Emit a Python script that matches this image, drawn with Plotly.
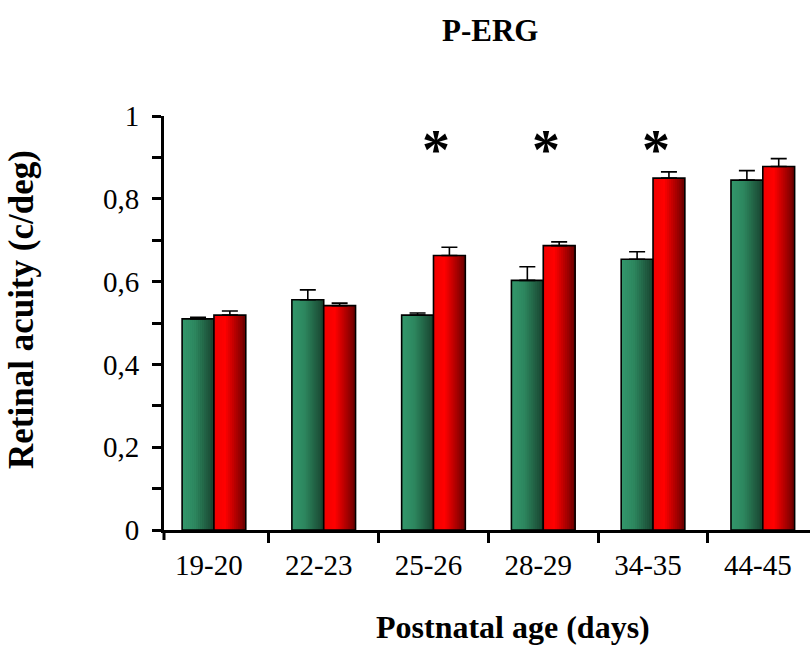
import plotly.graph_objects as go

categories = ["19-20", "22-23", "25-26", "28-29", "34-35", "44-45"]
green_vals = [0.510, 0.556, 0.519, 0.603, 0.654, 0.845]
green_err = [0.004, 0.024, 0.005, 0.033, 0.018, 0.023]
red_vals = [0.519, 0.542, 0.663, 0.687, 0.850, 0.878]
red_err = [0.010, 0.006, 0.020, 0.009, 0.015, 0.019]
sig_groups = ["25-26", "28-29", "34-35"]
y_ticks = [0, 0.1, 0.2, 0.3, 0.4, 0.5, 0.6, 0.7, 0.8, 0.9, 1.0]
y_ticklabels = ["0", "", "0,2", "", "0,4", "", "0,6", "", "0,8", "", "1"]

FONT = "Liberation Serif"
BW = 0.29
NS = 16


def lerp(c1, c2, t):
    return tuple(int(round(a + (b - a) * t)) for a, b in zip(c1, c2))


def grad(stops, t):
    for (t0, c0), (t1, c1) in zip(stops, stops[1:]):
        if t <= t1:
            return lerp(c0, c1, (t - t0) / (t1 - t0) if t1 > t0 else 0)
    return stops[-1][1]


green_stops = [(0.0, (52, 152, 108)), (0.4, (45, 135, 95)), (1.0, (24, 66, 46))]
red_stops = [(0.0, (240, 0, 0)), (0.35, (255, 0, 0)), (1.0, (105, 0, 0))]

fig = go.Figure()

for vals, errs, stops, off in [(green_vals, green_err, green_stops, -BW),
                               (red_vals, red_err, red_stops, 0.0)]:
    sw = BW / NS
    for i in range(NS):
        c = grad(stops, (i + 0.5) / NS)
        fig.add_trace(go.Bar(
            x=categories, y=vals, width=BW - i * sw, offset=off + i * sw,
            marker=dict(color="rgb(%d,%d,%d)" % c, line=dict(width=0)),
            showlegend=False, hoverinfo="skip"))
    fig.add_trace(go.Bar(
        x=categories, y=vals, width=BW, offset=off,
        marker=dict(color="rgba(0,0,0,0)", line=dict(color="black", width=1.6)),
        error_y=dict(type="data", array=errs, arrayminus=[0] * len(errs),
                     symmetric=False, color="black", thickness=1.6, width=8),
        showlegend=False))

for g in sig_groups:
    fig.add_annotation(x=g, y=0.946, xref="x", yref="y", text="<b>*</b>",
                       showarrow=False, xshift=3,
                       font=dict(family=FONT, size=56, color="black"),
                       yanchor="middle", yshift=-12)

# corner tick at axis origin
fig.add_shape(type="line", xref="paper", yref="paper", x0=0, x1=0,
              y0=0, y1=-10 / 414, line=dict(color="black", width=3))

fig.add_annotation(text="<b>P-ERG</b>", xref="paper", yref="paper",
                   x=(490 - 164) / 646, y=(530 - 31) / 414,
                   showarrow=False, xanchor="center", yanchor="middle",
                   font=dict(family=FONT, size=31, color="black"))
fig.add_annotation(text="<b>Retinal acuity (c/deg)</b>", xref="paper", yref="paper",
                   x=(21 - 164) / 646, y=(530 - 310) / 414, textangle=-90,
                   showarrow=False, xanchor="center", yanchor="middle",
                   font=dict(family=FONT, size=35, color="black"))
fig.add_annotation(text="<b>Postnatal age (days)</b>", xref="paper", yref="paper",
                   x=(513 - 164) / 646, y=(530 - 627) / 414,
                   showarrow=False, xanchor="center", yanchor="middle",
                   font=dict(family=FONT, size=32, color="black"))

fig.update_layout(
    width=810, height=648,
    margin=dict(l=164, r=0, t=116, b=118),
    paper_bgcolor="white", plot_bgcolor="white",
    barmode="overlay",
    font=dict(family=FONT, color="black"),
    xaxis=dict(type="category", range=[-0.455, 5.43], showgrid=False,
               showline=True, linecolor="black", linewidth=3,
               ticks="outside", tickson="boundaries", ticklen=10, tickwidth=3,
               tickcolor="black", tickfont=dict(family=FONT, size=29, color="black"),
               ticklabelstandoff=7, ticklabelshift=-5, zeroline=False),
    yaxis=dict(range=[0, 1], showgrid=False, zeroline=False,
               showline=True, linecolor="black", linewidth=3,
               tickvals=y_ticks, ticktext=y_ticklabels,
               ticks="outside", ticklen=9, tickwidth=3, tickcolor="black",
               tickfont=dict(family=FONT, size=29, color="black"),
               ticklabelstandoff=7),
)

fig.write_html("out.html")
